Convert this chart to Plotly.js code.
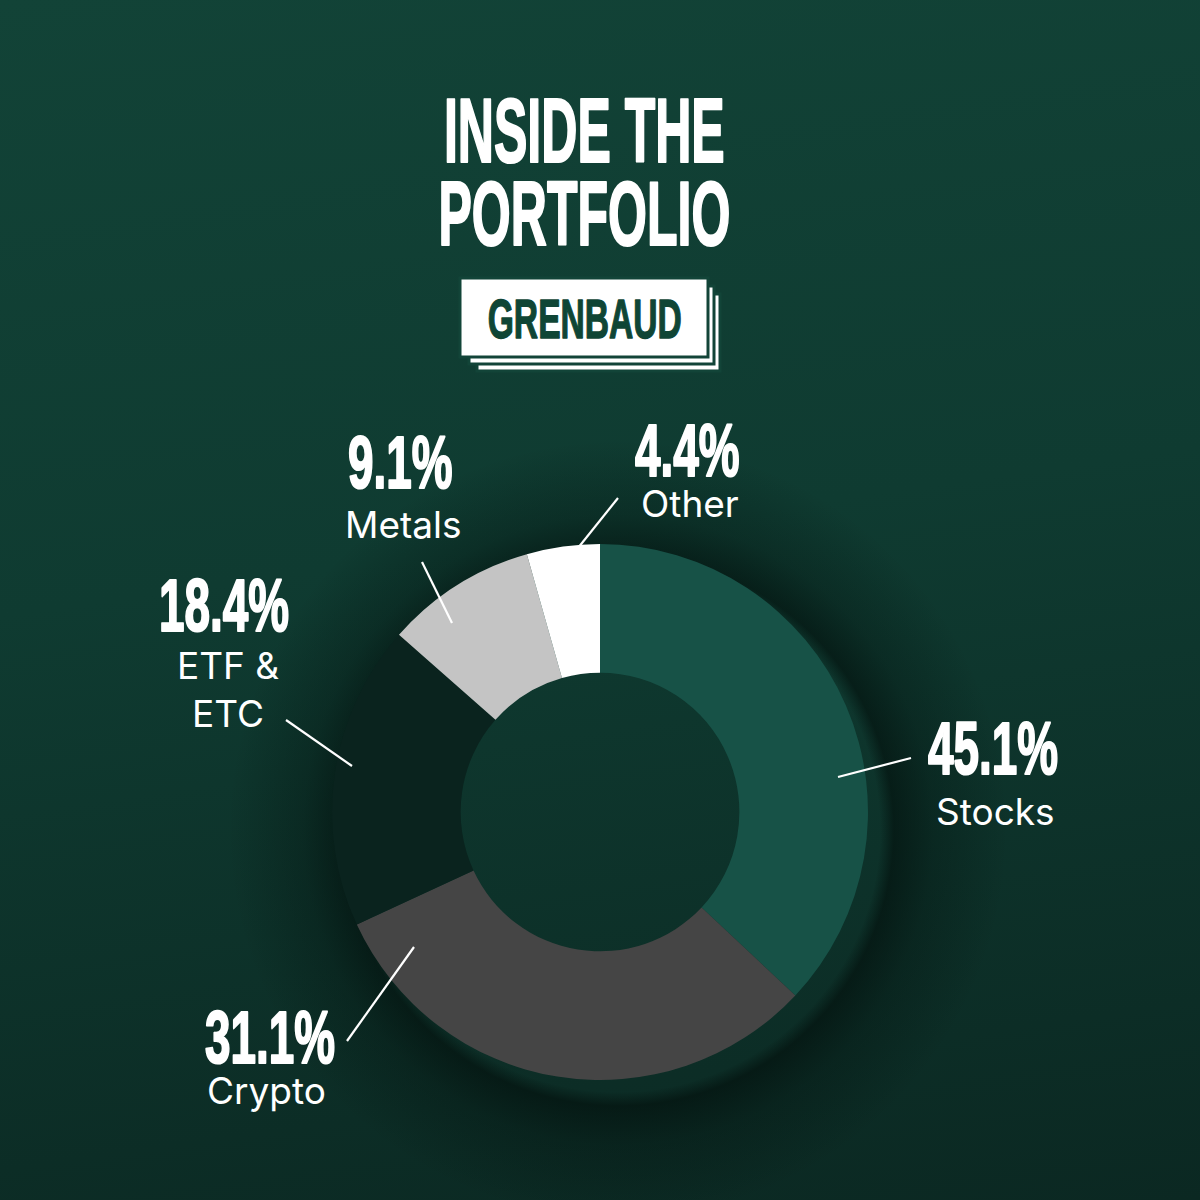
<!DOCTYPE html>
<html>
<head>
<meta charset="utf-8">
<script src="https://cdn.plot.ly/plotly-3.0.1.min.js"></script>
<style>
  html, body { margin: 0; padding: 0; }
  body {
    width: 1200px; height: 1200px; overflow: hidden;
    background:
      radial-gradient(circle at 618px 830px, rgba(0,0,0,0) 0px, rgba(0,0,0,0) 262px, rgba(2,14,11,0.6) 276px, rgba(2,14,11,0.28) 315px, rgba(0,0,0,0) 390px),
      linear-gradient(172deg, #124337 0%, #0f3b31 45%, #0b2822 100%);
  }
  #chart { width: 1200px; height: 1200px; }
</style>
</head>
<body>
<div id="chart"></div>
<script>
// ---- data ----
const categories = ["Stocks", "Crypto", "ETF &<br>ETC", "Metals", "Other"];
const labelPercents = [45.1, 31.1, 18.4, 9.1, 4.4];      // percentages printed on the chart
const drawnShares = [37.0, 31.1, 18.4, 9.1, 4.4];        // slice sizes as drawn in the picture
const sliceColors = ["#175247", "#454545", "#0a231e", "#c4c4c4", "#ffffff"];
const titleLines = ["INSIDE THE", "PORTFOLIO"];
const badgeText = "GRENBAUD";

// ---- layout helpers (pixel -> paper) ----
const W = 1200, H = 1200;
const px = x => x / W;
const py = y => 1 - y / H;

// label placement (center of percentage text, center of category text, leader line)
const labelPos = [
  { px: 993, py: 748, cx: 995, cy: 811, line: [838, 777, 911, 758] },
  { px: 270, py: 1037, cx: 266, cy: 1090, line: [414, 947, 347, 1041] },
  { px: 224, py: 605, cx: 228, cy: 689, line: [286, 720, 352, 766] },
  { px: 400, py: 462, cx: 403, cy: 524, line: [422, 562, 452, 623] },
  { px: 687, py: 450, cx: 690, cy: 503, line: [578, 548, 618, 498] }
];

const boldFont = "'Liberation Sans', Arial, sans-serif";
const textFont = "Inter, 'Noto Sans', sans-serif";

const annotations = [];
const squeeze = [];   // horizontal squeeze for each annotation (condensed display face)
const strokeCol = [];

titleLines.forEach((t, i) => {
  annotations.push({
    text: t, xref: "paper", yref: "paper", x: px(584), y: py(i === 0 ? 130.5 : 213.5),
    xanchor: "center", yanchor: "middle", showarrow: false,
    font: { family: boldFont, size: 91, color: "#ffffff", weight: 700 }
  });
  squeeze.push(0.55); strokeCol.push("#ffffff");
});

annotations.push({
  text: badgeText, xref: "paper", yref: "paper", x: px(585), y: py(318),
  xanchor: "center", yanchor: "middle", showarrow: false,
  font: { family: boldFont, size: 56, color: "#0f4535", weight: 700 }
});
squeeze.push(0.6); strokeCol.push("#0f4535");

categories.forEach((c, i) => {
  const p = labelPos[i];
  annotations.push({
    text: labelPercents[i].toFixed(1) + "%", xref: "paper", yref: "paper",
    x: px(p.px), y: py(p.py), xanchor: "center", yanchor: "middle", showarrow: false,
    font: { family: boldFont, size: 74, color: "#ffffff", weight: 700 }
  });
  squeeze.push(0.62); strokeCol.push("#ffffff");
  annotations.push({
    text: c, xref: "paper", yref: "paper",
    x: px(p.cx), y: py(p.cy), xanchor: "center", yanchor: "middle", showarrow: false,
    align: "center",
    font: { family: textFont, size: 37, color: "#ffffff" }
  });
  squeeze.push(1); strokeCol.push(null);
});

const bgLine = "#124438";
const shapes = [
  // stacked badge layers (back to front)
  { type: "rect", xref: "paper", yref: "paper", x0: px(477), x1: px(720), y0: py(294), y1: py(371),
    fillcolor: "#ffffff", line: { color: bgLine, width: 3 } },
  { type: "rect", xref: "paper", yref: "paper", x0: px(469), x1: px(714), y0: py(286), y1: py(364),
    fillcolor: "#ffffff", line: { color: bgLine, width: 3 } },
  { type: "rect", xref: "paper", yref: "paper", x0: px(460), x1: px(708), y0: py(278), y1: py(357),
    fillcolor: "#ffffff", line: { color: bgLine, width: 3 } }
];
labelPos.forEach(p => {
  shapes.push({ type: "line", xref: "paper", yref: "paper",
    x0: px(p.line[0]), y0: py(p.line[1]), x1: px(p.line[2]), y1: py(p.line[3]),
    line: { color: "#ffffff", width: 2.2 } });
});

const trace = {
  type: "pie",
  labels: categories,
  values: drawnShares,
  sort: false,
  direction: "clockwise",
  rotation: 0,
  hole: 0.52,
  marker: { colors: sliceColors, line: { width: 0 } },
  textinfo: "none",
  hoverinfo: "none",
  showlegend: false,
  domain: { x: [px(330), px(870)], y: [py(1080), py(544)] }
};

const layout = {
  width: W, height: H,
  margin: { l: 0, r: 0, t: 0, b: 0 },
  paper_bgcolor: "rgba(0,0,0,0)",
  plot_bgcolor: "rgba(0,0,0,0)",
  showlegend: false,
  annotations: annotations,
  shapes: shapes
};

Plotly.newPlot("chart", [trace], layout, { displayModeBar: false, staticPlot: true }).then(gd => {
  gd.querySelectorAll("g.annotation").forEach(g => {
    const idx = +g.getAttribute("data-index");
    const s = squeeze[idx];
    const el = g.querySelector("text.annotation-text");
    if (!el || s === 1) return;
    const bb = el.getBBox();
    const cx = bb.x + bb.width / 2;
    el.setAttribute("transform", `translate(${cx},0) scale(${s},1) translate(${-cx},0)`);
    el.style.stroke = strokeCol[idx];
    el.style.strokeWidth = idx === 2 ? "1.4px" : "2.2px";
    el.style.paintOrder = "stroke";
    el.style.strokeLinejoin = "round";
  });
});
</script>
</body>
</html>
